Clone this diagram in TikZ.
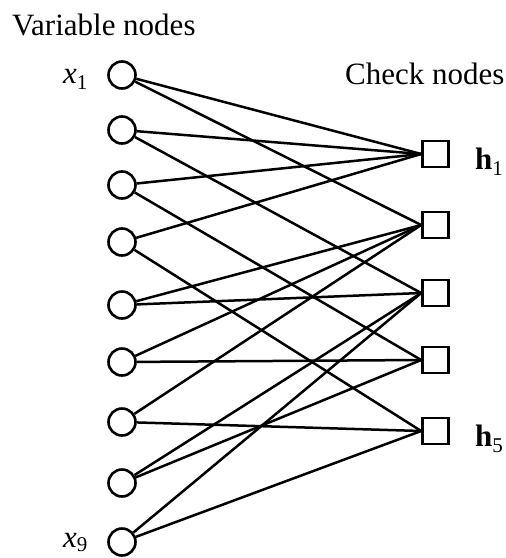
\documentclass[tikz,border=0pt]{standalone}
\usepackage{fontspec}
\setmainfont{Liberation Serif}
\begin{document}
\begin{tikzpicture}[x=1pt,y=-1pt,
  vnode/.style={circle,draw,line width=2.6pt,minimum size=27pt,inner sep=0pt},
  cnode/.style={rectangle,draw,line width=2.6pt,minimum size=26pt,inner sep=0pt},
  edge/.style={line width=2.5pt},
  lbl/.style={inner sep=0pt,anchor=base west,font=\fontsize{31}{36}\selectfont}]
\useasboundingbox (0,0) rectangle (506,558);
% variable nodes
\foreach \i/\y in {1/75,2/130,3/185,4/242,5/305,6/362,7/422,8/483,9/542}
  \node[vnode] (v\i) at (122,\y) {};
% check nodes
\foreach \j/\y in {1/154,2/225,3/293,4/360,5/431}
  \node[cnode] (c\j) at (435.5,\y) {};
% edges
\foreach \i/\j in {1/1,1/2,2/1,2/3,3/1,3/4,4/1,4/5,5/2,5/3,6/2,6/4,7/2,7/5,8/3,8/4,9/3,9/5}
  \draw[edge] (v\i) -- (c\j.west);
% labels
\node[lbl] (tv) at (12,35) {Variable nodes};
\node[lbl] (tc) at (345,84) {Check nodes};
\node[lbl] (lx1) at (63,83) {\textit{x}\raisebox{-0.2em}{\fontsize{21}{21}\selectfont 1}};
\node[lbl] (lx9) at (63,547) {\textit{x}\raisebox{-0.15em}{\fontsize{21}{21}\selectfont 9}};
\node[lbl] (lh1) at (475,169) {\textbf{h}\raisebox{-0.2em}{\fontsize{21}{21}\selectfont 1}};
\node[lbl] (lh5) at (475,446) {\textbf{h}\raisebox{-0.2em}{\fontsize{21}{21}\selectfont 5}};
\end{tikzpicture}
\end{document}
